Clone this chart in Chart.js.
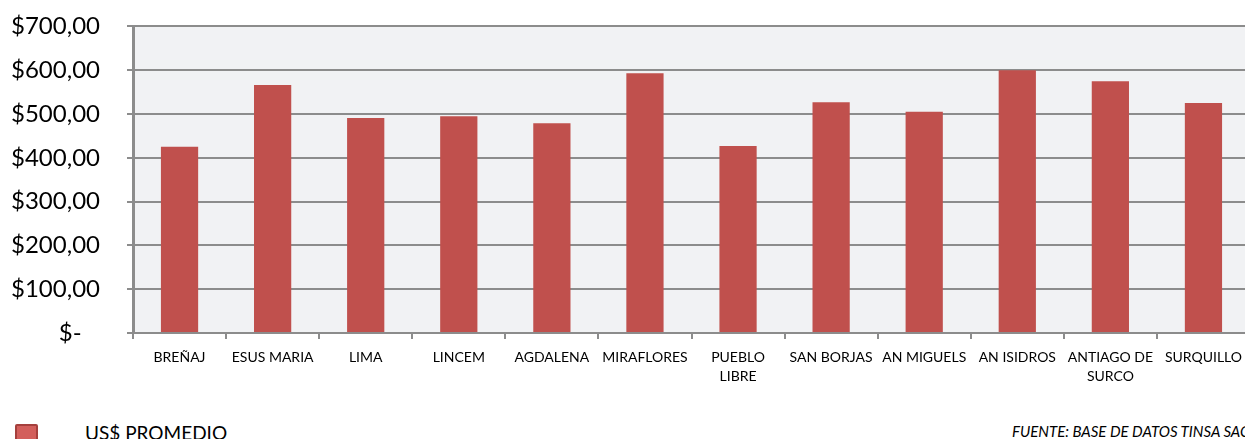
<!DOCTYPE html>
<html>
<head>
<meta charset="utf-8">
<script src="https://cdn.jsdelivr.net/npm/chart.js@4.4.1/dist/chart.umd.min.js"></script>
<style>
  html, body { margin: 0; padding: 0; background: #fff; overflow: hidden; }
  body { width: 1245px; height: 439px; position: relative; font-family: Lato, "Open Sans", sans-serif; }
  #wrap { position: absolute; left: 0; top: -15px; width: 1252px; height: 410px; }
  .legend { position: absolute; left: 15px; top: 421px; display: flex; align-items: center; }
  .legend .box { width: 19px; height: 14px; background: #d35f5c; border: 2px solid #a5403d; border-radius: 2px; }
  .legend span { margin-left: 47px; font-size: 19px; color: #000; }
  .source { position: absolute; left: 1012px; top: 422px; font-size: 15px; font-style: italic; white-space: nowrap; color: #000; }
</style>
</head>
<body>
<div id="wrap"><canvas id="chart"></canvas></div>
<div class="legend"><div class="box"></div><span>US$ PROMEDIO</span></div>
<div class="source">FUENTE: BASE DE DATOS TINSA SAC</div>
<script>
const districts = ['BREÑAJ', 'ESUS MARIA', 'LIMA', 'LINCEM', 'AGDALENA', 'MIRAFLORES',
  ['PUEBLO', 'LIBRE'], 'SAN BORJAS', 'AN MIGUELS', 'AN ISIDROS', ['ANTIAGO DE', 'SURCO'], 'SURQUILLO'];
const avgPrice = [425, 566, 491, 495, 479, 593, 427, 527, 505, 600, 575, 525];
const yTicks = [0, 100, 200, 300, 400, 500, 600, 700];

const formatUsd = (v) => v === 0 ? '$-   ' : '$' + v.toFixed(2).replace('.', ',');

// light grey panel behind the bars
const plotBackground = {
  id: 'plotBackground',
  beforeDraw(chart) {
    const { ctx, chartArea } = chart;
    ctx.save();
    ctx.fillStyle = '#f1f2f4';
    ctx.fillRect(chartArea.left, chartArea.top, chartArea.right - chartArea.left, chartArea.bottom - chartArea.top);
    ctx.restore();
  }
};

new Chart(document.getElementById('chart'), {
  type: 'bar',
  data: {
    labels: districts,
    datasets: [{
      label: 'US$ PROMEDIO',
      data: avgPrice,
      backgroundColor: '#c0504d',
      borderWidth: 0,
      categoryPercentage: 1,
      barPercentage: 0.4
    }]
  },
  options: {
    responsive: true,
    maintainAspectRatio: false,
    animation: false,
    layout: { padding: { top: 0, right: 2, bottom: 0, left: 0 } },
    plugins: { legend: { display: false }, tooltip: { enabled: false } },
    scales: {
      x: {
        afterFit: (scale) => { scale.height = 62; },
        grid: { drawOnChartArea: false, drawTicks: true, tickLength: 6, color: '#8c8c8c', lineWidth: 2, offset: true },
        border: { color: '#8c8c8c', width: 2 },
        ticks: { color: '#000', font: { family: 'Lato', size: 14, lineHeight: 1.35 }, padding: 9, maxRotation: 0, autoSkip: false }
      },
      y: {
        min: 0,
        max: 700,
        afterFit: (scale) => { scale.width = 133; },
        afterBuildTicks: (scale) => { scale.ticks = yTicks.map(v => ({ value: v })); },
        grid: { color: '#8c8c8c', lineWidth: 2, tickLength: 6 },
        border: { color: '#8c8c8c', width: 3 },
        ticks: { color: '#000', font: { family: 'Lato', size: 24 }, padding: 27, callback: formatUsd }
      }
    }
  },
  plugins: [plotBackground]
});
</script>
</body>
</html>
